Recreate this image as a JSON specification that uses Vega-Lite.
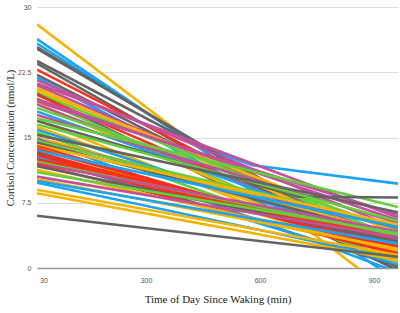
{
  "$schema": "https://vega.github.io/schema/vega-lite/v6.json",
  "width": 361,
  "height": 261,
  "autosize": "none",
  "padding": {"left": 37, "top": 7, "right": 2, "bottom": 45},
  "background": "white",
  "config": {"view": {"stroke": null}},
  "data": {"values": [
    {"id":1,"g":"yellow","t":13,"v":28.0},{"id":1,"g":"yellow","t":963,"v":-3.5},
    {"id":2,"g":"blue","t":13,"v":26.3},{"id":2,"g":"blue","t":963,"v":-1.5},
    {"id":3,"g":"blue","t":13,"v":25.8},{"id":3,"g":"blue","t":440,"v":14.0},{"id":3,"g":"blue","t":580,"v":11.8},{"id":3,"g":"blue","t":963,"v":9.7},
    {"id":4,"g":"gray","t":13,"v":25.4},{"id":4,"g":"gray","t":963,"v":0.5},
    {"id":5,"g":"gray","t":13,"v":25.2},{"id":5,"g":"gray","t":963,"v":1.0},
    {"id":6,"g":"gray","t":13,"v":23.8},{"id":6,"g":"gray","t":963,"v":2.0},
    {"id":7,"g":"gray","t":13,"v":23.5},{"id":7,"g":"gray","t":963,"v":0.0},
    {"id":8,"g":"red","t":13,"v":22.8},{"id":8,"g":"red","t":963,"v":1.5},
    {"id":9,"g":"gray","t":13,"v":22.2},{"id":9,"g":"gray","t":963,"v":1.2},
    {"id":10,"g":"blue","t":13,"v":21.9},{"id":10,"g":"blue","t":963,"v":0.2},
    {"id":11,"g":"purple","t":13,"v":21.6},{"id":11,"g":"purple","t":963,"v":4.5},
    {"id":12,"g":"purple","t":13,"v":21.2},{"id":12,"g":"purple","t":963,"v":5.8},
    {"id":13,"g":"purple","t":13,"v":21.0},{"id":13,"g":"purple","t":963,"v":3.0},
    {"id":14,"g":"yellow","t":13,"v":20.7},{"id":14,"g":"yellow","t":963,"v":2.5},
    {"id":15,"g":"yellow","t":13,"v":20.4},{"id":15,"g":"yellow","t":963,"v":4.0},
    {"id":16,"g":"green","t":13,"v":20.1},{"id":16,"g":"green","t":963,"v":3.5},
    {"id":17,"g":"gray","t":13,"v":20.0},{"id":17,"g":"gray","t":963,"v":-0.3},
    {"id":18,"g":"red","t":13,"v":19.9},{"id":18,"g":"red","t":963,"v":2.0},
    {"id":19,"g":"green","t":13,"v":19.5},{"id":19,"g":"green","t":963,"v":1.0},
    {"id":20,"g":"purple","t":13,"v":19.4},{"id":20,"g":"purple","t":963,"v":5.5},
    {"id":21,"g":"purple","t":13,"v":19.1},{"id":21,"g":"purple","t":963,"v":6.1},
    {"id":22,"g":"yellow","t":13,"v":18.9},{"id":22,"g":"yellow","t":963,"v":1.2},
    {"id":23,"g":"purple","t":13,"v":18.8},{"id":23,"g":"purple","t":963,"v":2.8},
    {"id":24,"g":"green","t":13,"v":18.4},{"id":24,"g":"green","t":963,"v":4.4},
    {"id":25,"g":"blue","t":13,"v":18.0},{"id":25,"g":"blue","t":963,"v":3.2},
    {"id":26,"g":"purple","t":13,"v":17.6},{"id":26,"g":"purple","t":963,"v":5.2},
    {"id":27,"g":"green","t":13,"v":17.2},{"id":27,"g":"green","t":963,"v":7.0},
    {"id":28,"g":"yellow","t":13,"v":17.0},{"id":28,"g":"yellow","t":963,"v":0.5},
    {"id":29,"g":"gray","t":13,"v":16.9},{"id":29,"g":"gray","t":700,"v":8.2},{"id":29,"g":"gray","t":963,"v":8.1},
    {"id":30,"g":"green","t":13,"v":16.5},{"id":30,"g":"green","t":963,"v":5.4},
    {"id":31,"g":"yellow","t":13,"v":16.2},{"id":31,"g":"yellow","t":963,"v":1.8},
    {"id":32,"g":"blue","t":13,"v":15.9},{"id":32,"g":"blue","t":963,"v":2.6},
    {"id":33,"g":"green","t":13,"v":15.6},{"id":33,"g":"green","t":963,"v":0.8},
    {"id":34,"g":"gray","t":13,"v":15.3},{"id":34,"g":"gray","t":963,"v":6.4},
    {"id":35,"g":"yellow","t":13,"v":15.0},{"id":35,"g":"yellow","t":963,"v":3.8},
    {"id":36,"g":"blue","t":13,"v":14.9},{"id":36,"g":"blue","t":963,"v":-0.5},
    {"id":37,"g":"purple","t":13,"v":14.7},{"id":37,"g":"purple","t":963,"v":4.6},
    {"id":38,"g":"green","t":13,"v":14.6},{"id":38,"g":"green","t":963,"v":4.9},
    {"id":39,"g":"gray","t":13,"v":14.4},{"id":39,"g":"gray","t":963,"v":3.7},
    {"id":40,"g":"yellow","t":13,"v":14.1},{"id":40,"g":"yellow","t":963,"v":5.0},
    {"id":41,"g":"red","t":13,"v":14.0},{"id":41,"g":"red","t":963,"v":2.0},
    {"id":42,"g":"red","t":13,"v":13.9},{"id":42,"g":"red","t":963,"v":1.7},
    {"id":43,"g":"yellow","t":13,"v":13.8},{"id":43,"g":"yellow","t":963,"v":1.4},
    {"id":44,"g":"red","t":13,"v":13.7},{"id":44,"g":"red","t":963,"v":2.3},
    {"id":45,"g":"blue","t":13,"v":13.5},{"id":45,"g":"blue","t":963,"v":4.7},
    {"id":46,"g":"red","t":13,"v":13.3},{"id":46,"g":"red","t":963,"v":1.9},
    {"id":47,"g":"gray","t":13,"v":13.2},{"id":47,"g":"gray","t":963,"v":0.2},
    {"id":48,"g":"red","t":13,"v":13.0},{"id":48,"g":"red","t":963,"v":3.0},
    {"id":49,"g":"red","t":13,"v":12.8},{"id":49,"g":"red","t":963,"v":2.4},
    {"id":50,"g":"blue","t":13,"v":12.7},{"id":50,"g":"blue","t":963,"v":0.4},
    {"id":51,"g":"red","t":13,"v":12.5},{"id":51,"g":"red","t":963,"v":3.4},
    {"id":52,"g":"red","t":13,"v":12.3},{"id":52,"g":"red","t":963,"v":2.6},
    {"id":53,"g":"green","t":13,"v":12.2},{"id":53,"g":"green","t":963,"v":3.8},
    {"id":54,"g":"purple","t":13,"v":12.0},{"id":54,"g":"purple","t":963,"v":4.2},
    {"id":55,"g":"red","t":13,"v":11.9},{"id":55,"g":"red","t":963,"v":1.6},
    {"id":56,"g":"gray","t":13,"v":11.7},{"id":56,"g":"gray","t":963,"v":3.0},
    {"id":57,"g":"yellow","t":13,"v":11.3},{"id":57,"g":"yellow","t":963,"v":2.0},
    {"id":58,"g":"green","t":13,"v":11.0},{"id":58,"g":"green","t":963,"v":4.0},
    {"id":59,"g":"purple","t":13,"v":10.5},{"id":59,"g":"purple","t":963,"v":3.5},
    {"id":60,"g":"yellow","t":13,"v":10.2},{"id":60,"g":"yellow","t":963,"v":2.2},
    {"id":61,"g":"blue","t":13,"v":10.0},{"id":61,"g":"blue","t":963,"v":2.8},
    {"id":62,"g":"blue","t":13,"v":9.8},{"id":62,"g":"blue","t":963,"v":1.0},
    {"id":63,"g":"yellow","t":13,"v":9.0},{"id":63,"g":"yellow","t":963,"v":1.5},
    {"id":64,"g":"yellow","t":13,"v":8.6},{"id":64,"g":"yellow","t":963,"v":0.9},
    {"id":65,"g":"gray","t":13,"v":6.0},{"id":65,"g":"gray","t":963,"v":1.3}
  ]},
  "mark": {"type": "line", "strokeWidth": 2.6, "clip": true, "strokeCap": "butt"},
  "encoding": {
    "x": {
      "field": "t", "type": "quantitative",
      "scale": {"domain": [13, 963], "nice": false, "zero": false},
      "axis": {
        "values": [30, 300, 600, 900],
        "title": "Time of Day Since Waking (min)",
        "titleFont": "Liberation Serif", "titleFontSize": 11, "titleFontWeight": "normal", "titleColor": "#222",
        "titlePadding": 10,
        "labelFont": "Liberation Sans", "labelFontSize": 7, "labelColor": "#555",
        "labelPadding": 8,
        "ticks": false, "grid": false,
        "domainColor": "#999", "domainWidth": 1.5
      }
    },
    "y": {
      "field": "v", "type": "quantitative",
      "scale": {"domain": [0, 30], "nice": false},
      "axis": {
        "values": [0, 7.5, 15, 22.5, 30],
        "format": ".1~f",
        "title": "Cortisol Concentration (nmol/L)",
        "titleFont": "Liberation Serif", "titleFontSize": 10.5, "titleFontWeight": "normal", "titleColor": "#222",
        "titlePadding": 2,
        "labelFont": "Liberation Sans", "labelFontSize": 7, "labelColor": "#555",
        "labelPadding": 6,
        "ticks": false, "domain": false,
        "gridColor": "#dddddd", "gridWidth": 1
      }
    },
    "color": {
      "field": "g", "type": "nominal", "legend": null,
      "scale": {
        "domain": ["blue", "gray", "yellow", "red", "green", "purple"],
        "range": ["#1ca3f2", "#646464", "#f6b400", "#fd2f1c", "#62cf3c", "#c3509b"]
      }
    },
    "detail": {"field": "id", "type": "nominal"}
  }
}
